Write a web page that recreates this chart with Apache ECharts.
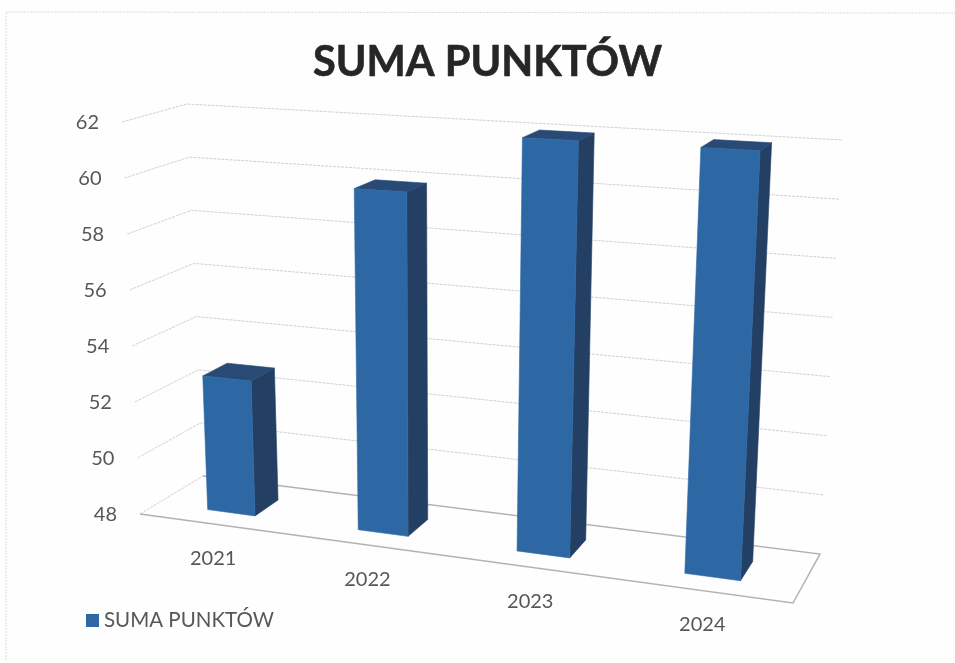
<!DOCTYPE html>
<html>
<head>
<meta charset="utf-8">
<style>html,body{margin:0;padding:0;background:#fefefe}#main{width:955px;height:663px}</style>
<script src="https://cdn.jsdelivr.net/npm/echarts@6/dist/echarts.min.js"></script>
</head>
<body>
<div id="main"></div>
<script>
const categories = ['2021', '2022', '2023', '2024'];
const seriesName = 'SUMA PUNKTÓW';
const points = [52.8, 59.9, 62, 62];
const valueTicks = [48, 50, 52, 54, 56, 58, 60, 62];

// Flat plotting frame that the axes work in; its unit square is then
// projected onto the box of the 3D scene.
const frame = { left: 100, top: 100, width: 700, height: 400 };

// Scene box corners: b = floor, t = ceiling, F = front, B = back, L/R = sides.
const box = {
  bFL: [140, 514], bFR: [793, 603], bBL: [203, 476], bBR: [820, 554],
  tFL: [122, 122], tFR: [817, 160], tBL: [187, 104], tBR: [842, 140]
};
const foreshorten = 0.115;
const barHalfBand = 0.16;
const barDepth = [0.29, 0.69];

const mix = (a, b, k) => [a[0] + (b[0] - a[0]) * k, a[1] + (b[1] - a[1]) * k];

// t: across the categories, h: up the value axis, v: front to back; each in 0..1.
function project(t, h, v) {
  const u = t / (1 + foreshorten * (1 - t));
  const bottom = mix(mix(box.bFL, box.bFR, u), mix(box.bBL, box.bBR, u), v);
  const top = mix(mix(box.tFL, box.tFR, u), mix(box.tBL, box.tBR, u), v);
  return mix(bottom, top, h);
}

const toT = x => (x - frame.left) / frame.width;
const toH = y => (frame.top + frame.height - y) / frame.height;

// A face of a bar; the stroke closes the hairline seam between neighbouring faces.
const face = (pts, color) => ({
  type: 'polygon', shape: { points: pts },
  style: { fill: color, stroke: color, lineWidth: 0.6 }
});

const gridStyle = { fill: 'none', stroke: '#d2d2d2', lineWidth: 1, lineDash: [3, 1] };
const floorStyle = { fill: 'none', stroke: '#b2b2b2', lineWidth: 1.5 };

function renderWall(params, api) {
  const h = toH(api.coord([0, api.value(1)])[1]);
  const children = [];
  if (h === 0) {
    // Floor: the edge along the side wall stays as faint as the grid lines.
    children.push({
      type: 'polyline',
      shape: { points: [project(0, 0, 0), project(0, 0, 1)] },
      style: gridStyle
    });
    children.push({
      type: 'polyline',
      shape: { points: [project(0, 0, 1), project(1, 0, 1), project(1, 0, 0), project(0, 0, 0)] },
      style: floorStyle
    });
  } else {
    children.push({
      type: 'polyline',
      shape: { points: [project(0, h, 0), project(0, h, 1), project(1, h, 1)] },
      style: gridStyle
    });
  }
  const anchor = project(0, h, 0);
  children.push({
    type: 'text',
    style: {
      x: anchor[0] - 23, y: anchor[1] + 1,
      text: String(api.value(1)),
      align: 'right', verticalAlign: 'middle',
      font: '20px Lato', fill: '#575757'
    }
  });
  return { type: 'group', children: children };
}

function renderBar(params, api) {
  const idx = api.value(0);
  const c = api.coord([idx, api.value(1)]);
  const band = api.size([1, 0])[0];
  const t0 = toT(c[0] - band * barHalfBand);
  const t1 = toT(c[0] + band * barHalfBand);
  const h = toH(c[1]);
  const [v0, v1] = barDepth;
  const front = [project(t0, 0, v0), project(t1, 0, v0), project(t1, h, v0), project(t0, h, v0)];
  const side = [project(t1, 0, v0), project(t1, 0, v1), project(t1, h, v1), project(t1, h, v0)];
  const lid = [project(t0, h, v0), project(t1, h, v0), project(t1, h, v1), project(t0, h, v1)];
  return {
    type: 'group',
    children: [face(side, '#233f63'), face(lid, '#284a74'), face(front, '#2e68a4')]
  };
}

function renderCategory(params, api) {
  const c = api.coord([api.value(0), 48]);
  const p = project(toT(c[0]), 0, 0);
  return {
    type: 'text',
    style: {
      x: p[0] - 1, y: p[1] + 34,
      text: categories[api.value(0)],
      align: 'center', verticalAlign: 'middle',
      font: '20px Lato', fill: '#575757'
    }
  };
}

const chart = echarts.init(document.getElementById('main'));
chart.setOption({
  backgroundColor: '#fefefe',
  animation: false,
  title: {
    text: seriesName, left: 308, top: 37,
    textStyle: {
      fontFamily: 'Lato', fontWeight: 'bold', fontSize: 41.5, color: '#262626',
      textBorderColor: '#262626', textBorderWidth: 0.6
    }
  },
  legend: {
    left: 81, top: 605, icon: 'rect', itemWidth: 13, itemHeight: 13,
    data: [seriesName],
    textStyle: { fontFamily: 'Lato', fontSize: 20.5, color: '#575757' }
  },
  grid: frame,
  xAxis: { type: 'category', data: categories, show: false },
  yAxis: { type: 'value', min: 48, max: 62, interval: 2, show: false },
  graphic: [{
    type: 'polyline', silent: true,
    shape: { points: [[6, 660], [6, 12], [955, 13]] },
    style: { fill: 'none', stroke: '#dcdcdc', lineWidth: 1, lineDash: [2, 1] }
  }],
  series: [
    {
      type: 'custom', silent: true, z: 1,
      renderItem: renderWall,
      data: valueTicks.map(v => [0, v])
    },
    {
      type: 'custom', name: seriesName, z: 2,
      itemStyle: { color: '#2e68a4' },
      renderItem: renderBar,
      data: points.map((v, i) => [i, v])
    },
    {
      type: 'custom', silent: true, z: 3,
      renderItem: renderCategory,
      data: categories.map((c, i) => [i, 48])
    }
  ]
});
</script>
</body>
</html>
